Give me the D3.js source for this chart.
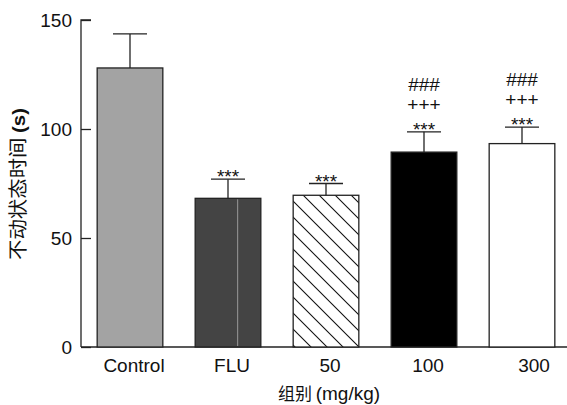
<!DOCTYPE html>
<html lang="zh">

<head>
    <meta charset="UTF-8">
    <title>不动状态时间</title>
    <script src="https://d3js.org/d3.v7.min.js"></script>
    <style>
        body { margin: 0; background: #fff; }
        text { font-family: "Liberation Sans", Arial, sans-serif; fill: #111; }
        .cjk { font-family: "Noto Sans CJK SC", sans-serif; }
    </style>
</head>

<body>
    <script>
        // data
        const groups = ["Control", "FLU", "50", "100", "300"];
        const means = [128, 68.2, 69.6, 89.4, 93.3];
        const errors = [15.6, 8.8, 5.4, 9.3, 7.6];
        const marks = [[], ["***"], ["***"], ["***", "+++", "###"], ["***", "+++", "###"]];
        const yTicks = [0, 50, 100, 150];

        const width = 567, height = 405;
        const plotLeft = 81, plotTop = 20, plotBottom = 347;

        const svg = d3.select("body").append("svg")
            .attr("width", width)
            .attr("height", height);

        // hatch for the 50 mg/kg bar
        svg.append("defs").append("pattern")
            .attr("id", "hatch")
            .attr("patternUnits", "userSpaceOnUse")
            .attr("width", 16).attr("height", 16)
            .attr("patternTransform", "translate(12,0)")
            .call(p => {
                p.append("rect").attr("width", 16).attr("height", 16).attr("fill", "#fff");
                p.append("path")
                    .attr("d", "M0,0L16,16M-4,12L4,20M12,-4L20,4")
                    .attr("stroke", "#111").attr("stroke-width", 1.1);
            });

        const x = d3.scaleBand()
            .domain(groups)
            .range([plotLeft, plotLeft + 490])
            .paddingInner(0.33)
            .paddingOuter(0.165);

        const y = d3.scaleLinear().domain([0, 150]).range([plotBottom, plotTop]);

        const fills = ["#a3a3a3", "#444444", "url(#hatch)", "#000000", "#ffffff"];

        // axes
        const yAxis = svg.append("g")
            .attr("transform", `translate(${plotLeft},0)`)
            .call(d3.axisRight(y).tickValues(yTicks).tickSize(10).tickFormat(""));
        yAxis.select(".domain").attr("d", `M10,${plotTop}H0V${plotBottom}`);
        yAxis.selectAll("line, path").attr("stroke", "#222").attr("stroke-width", 1.3);

        svg.append("g").selectAll("text")
            .data(yTicks)
            .join("text")
            .attr("x", 72)
            .attr("y", d => y(d))
            .attr("dy", "0.35em")
            .attr("text-anchor", "end")
            .style("font-size", "19px")
            .text(d => d);

        svg.append("line")
            .attr("x1", plotLeft).attr("x2", width)
            .attr("y1", plotBottom).attr("y2", plotBottom)
            .attr("stroke", "#222").attr("stroke-width", 1.3);

        // bars
        svg.append("g").selectAll("rect")
            .data(groups)
            .join("rect")
            .attr("x", d => x(d))
            .attr("y", (d, i) => y(means[i]))
            .attr("width", x.bandwidth())
            .attr("height", (d, i) => plotBottom - y(means[i]))
            .attr("fill", (d, i) => fills[i])
            .attr("stroke", "#222")
            .attr("stroke-width", 1.3);

        // light inner line on the FLU bar
        svg.append("line")
            .attr("x1", x("FLU") + 42.5).attr("x2", x("FLU") + 42.5)
            .attr("y1", y(means[1]) + 1).attr("y2", plotBottom - 1)
            .attr("stroke", "#9a9a9a").attr("stroke-width", 1);

        // error bars and significance marks
        const eb = svg.append("g").attr("stroke", "#222").attr("stroke-width", 1.3);
        const markShift = [4, -21, -41];
        groups.forEach((g, i) => {
            const cx = x(g) + x.bandwidth() / 2;
            const capY = y(means[i] + errors[i]);
            eb.append("line").attr("x1", cx).attr("x2", cx).attr("y1", y(means[i])).attr("y2", capY);
            eb.append("line").attr("x1", cx - 17).attr("x2", cx + 17).attr("y1", capY).attr("y2", capY);

            marks[i].forEach((m, k) => {
                svg.append("text")
                    .attr("x", cx)
                    .attr("y", capY + markShift[k])
                    .attr("text-anchor", "middle")
                    .style("font-size", "19px")
                    .text(m);
            });
        });

        // category labels
        svg.append("g").selectAll("text")
            .data(groups)
            .join("text")
            .attr("x", d => x(d) + x.bandwidth() / 2 + (d === "300" ? 12 : 4))
            .attr("y", 372)
            .attr("text-anchor", "middle")
            .style("font-size", "19px")
            .text(d => d);

        // axis titles
        const xTitle = svg.append("text")
            .attr("x", 329)
            .attr("y", 400)
            .attr("text-anchor", "middle");
        xTitle.append("tspan").attr("class", "cjk").style("font-size", "17px").text("组别 ");
        xTitle.append("tspan").style("font-size", "19px").text("(mg/kg)");

        const yTitle = svg.append("text")
            .attr("transform", "translate(25,184) rotate(-90)")
            .attr("text-anchor", "middle")
            .attr("textLength", 152)
            .attr("lengthAdjust", "spacingAndGlyphs");
        yTitle.append("tspan").attr("class", "cjk").style("font-size", "19px").text("不动状态时间 ");
        yTitle.append("tspan").style("font-size", "19px").style("font-weight", "bold").text("(s)");
    </script>
</body>

</html>
